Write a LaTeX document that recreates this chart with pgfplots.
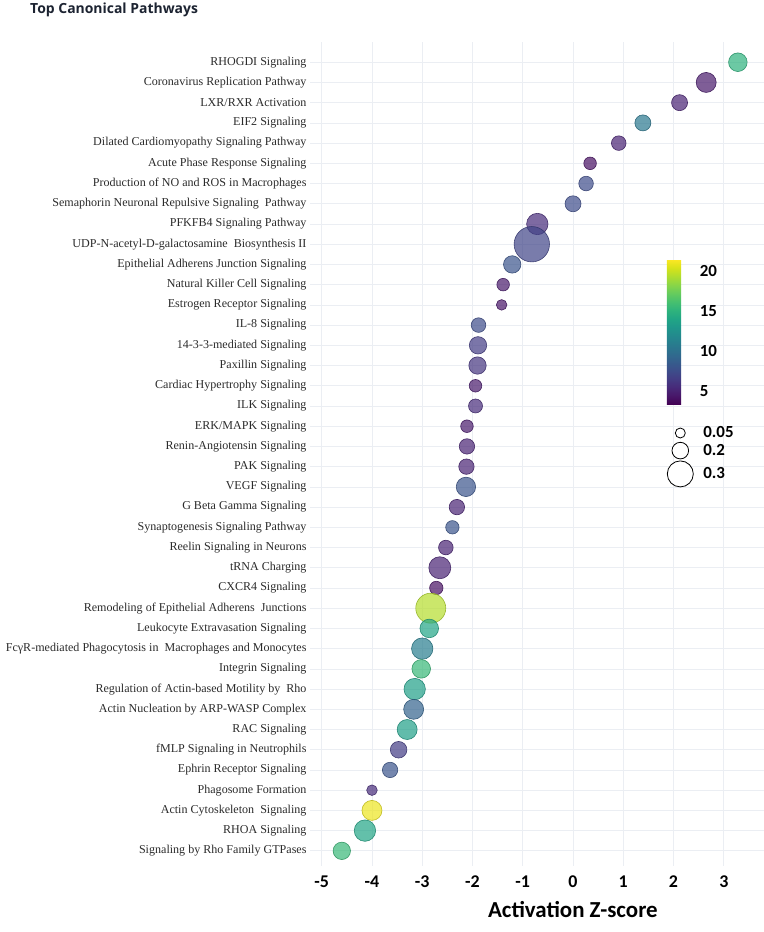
\documentclass[border=0pt]{standalone}
\usepackage{fontspec}
\setmainfont{Liberation Serif}
\newfontfamily\carlito{Carlito}
\newfontfamily\opensans{Open Sans}
\usepackage{pgfplots}
\pgfplotsset{compat=1.18}
\usepackage{pgfplotstable}

% y = row (1 = top), x = activation z-score, r = bubble radius (bp), c = colour value
\pgfplotstableread{
y x r c
1 3.28 9.3 15
2 2.65 10 4.5
3 2.12 8 5
4 1.39 8 10.5
5 0.91 7.3 5
6 0.34 6.3 4
7 0.26 7.3 7.5
8 0.00 8 7.5
9 -0.71 10.7 5.5
10 -0.82 17.7 7
11 -1.21 8.7 8
12 -1.39 6.3 4.5
13 -1.42 5.3 4.3
14 -1.88 7.3 7.5
15 -1.89 8.7 6.5
16 -1.90 8.7 6
17 -1.94 6.3 4.5
18 -1.94 7 5.5
19 -2.11 6.3 4.5
20 -2.11 7.7 5
21 -2.12 7.7 5
22 -2.13 9.7 8
23 -2.31 7.7 5
24 -2.40 6.7 8
25 -2.53 7.3 5
26 -2.65 11 5
27 -2.72 6.7 4
28 -2.83 15 19.5
29 -2.86 9.3 14
30 -3.00 10.7 11
31 -3.02 9.3 15.5
32 -3.15 10.7 13.5
33 -3.17 10 9
34 -3.30 10 13.5
35 -3.47 8.3 6.5
36 -3.64 7.7 8
37 -4.00 5.3 5.5
38 -4.00 10 21
39 -4.14 10.7 14
40 -4.60 8.7 15.5
}\data

\definecolor{gridc}{HTML}{EBEEF3}
\definecolor{labc}{HTML}{2B2B2B}
\definecolor{titlec}{HTML}{1C2331}

\begin{document}
\begin{tikzpicture}
\path[use as bounding box] (0,0) rectangle (764bp,932bp);
\node[anchor=base west, font=\opensans\bfseries\fontsize{14}{17}\selectfont, text=titlec, inner sep=0pt] at (30bp,918.5bp) {Top Canonical Pathways};
\begin{axis}[
  at={(310bp,66bp)}, anchor=south west,
  scale only axis, width=454bp, height=824bp,
  xmin=-5.233, xmax=3.80, ymin=0, ymax=40.75, y dir=reverse,
  axis line style={draw=none},
  xtick={-5,...,3}, xticklabels={-5,-4,-3,-2,-1,0,1,2,3},
  ytick={1,...,40},
  yticklabels={
    RHOGDI Signaling,
    Coronavirus Replication Pathway,
    LXR/RXR Activation,
    EIF2 Signaling,
    Dilated Cardiomyopathy Signaling Pathway,
    Acute Phase Response Signaling,
    Production of NO and ROS in Macrophages,
    Semaphorin Neuronal Repulsive Signaling~ Pathway,
    PFKFB4 Signaling Pathway,
    UDP-N-acetyl-D-galactosamine~ Biosynthesis II,
    Epithelial Adherens Junction Signaling,
    Natural Killer Cell Signaling,
    Estrogen Receptor Signaling,
    IL-8 Signaling,
    14-3-3-mediated Signaling,
    Paxillin Signaling,
    Cardiac Hypertrophy Signaling,
    ILK Signaling,
    ERK/MAPK Signaling,
    Renin-Angiotensin Signaling,
    PAK Signaling,
    VEGF Signaling,
    G Beta Gamma Signaling,
    Synaptogenesis Signaling Pathway,
    Reelin Signaling in Neurons,
    tRNA Charging,
    CXCR4 Signaling,
    Remodeling of Epithelial Adherens~ Junctions,
    Leukocyte Extravasation Signaling,
    FcγR-mediated Phagocytosis in~ Macrophages and Monocytes,
    Integrin Signaling,
    Regulation of Actin-based Motility by~ Rho,
    Actin Nucleation by ARP-WASP Complex,
    RAC Signaling,
    fMLP Signaling in Neutrophils,
    Ephrin Receptor Signaling,
    Phagosome Formation,
    Actin Cytoskeleton~ Signaling,
    RHOA Signaling,
    Signaling by Rho Family GTPases},
  major tick length=0pt,
  xmajorgrids, ymajorgrids,
  major grid style={gridc, line width=0.7bp},
  xticklabel style={font=\carlito\bfseries\fontsize{18}{20}\selectfont, text=black, yshift=-6bp},
  yticklabel style={font=\fontsize{12.1}{14}\selectfont, text=labc},
  xlabel={Activation Z-score},
  xlabel style={font=\carlito\bfseries\fontsize{23}{27}\selectfont, at={(axis description cs:0.579,0)}, anchor=center, yshift=-44bp},
  colormap/viridis,
  point meta min=3.3, point meta max=21.5,
  colorbar,
  colorbar style={
    at={(0.786,0.7363)}, anchor=north west,
    scale only axis, width=26bp, height=145bp,
    axis line style={draw=none},
    ytick={5,10,15,20}, yticklabels={5,10,15,20},
    major tick length=0pt,
    yticklabel style={font=\carlito\bfseries\fontsize{17}{20}\selectfont, xshift=3.5bp},
  },
  legend style={at={(0.780,0.537)}, anchor=north west, draw=none, fill=none,
    font=\carlito\bfseries\fontsize{17}{20}\selectfont,
    nodes={inner sep=1bp}, row sep=2bp, column sep=9bp},
  legend cell align=left,
]
\addplot[scatter, only marks, mark=*, forget plot,
  point meta=\thisrow{c},
  visualization depends on={\thisrow{r} \as \rad},
  scatter/@pre marker code/.append style={/tikz/mark size=\rad bp},
  mark options={fill opacity=0.7, draw opacity=0.9, line width=0.6bp}]
  table[x=x, y=y] {\data};
\addlegendimage{only marks, mark=*, mark size=5bp, mark options={draw=black, fill=white, line width=0.8bp}}
\addlegendentry{0.05}
\addlegendimage{only marks, mark=*, mark size=8.3bp, mark options={draw=black, fill=white, line width=0.8bp}}
\addlegendentry{0.2}
\addlegendimage{only marks, mark=*, mark size=13bp, mark options={draw=black, fill=white, line width=0.8bp}}
\addlegendentry{0.3}
\end{axis}
\end{tikzpicture}
\end{document}
